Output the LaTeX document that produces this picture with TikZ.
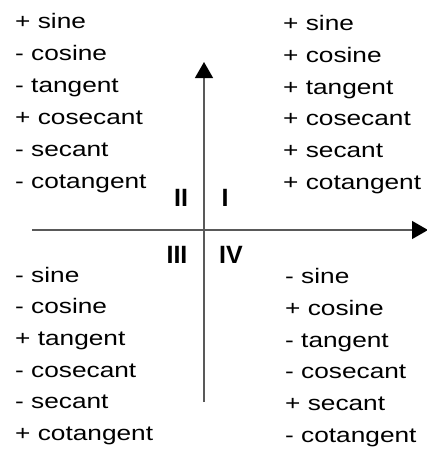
\documentclass[tikz,border=0pt]{standalone}
\usepackage{fontspec}
\setmainfont{Liberation Sans}
\newfontfamily\labelfont[FakeStretch=1.25]{Liberation Sans}
\usetikzlibrary{arrows.meta}
\tikzset{
  fn/.style={anchor=base west, inner sep=0pt, font=\labelfont\fontsize{21}{21}\selectfont, text=black},
  quad/.style={anchor=base, inner sep=0pt, font=\bfseries\fontsize{25}{25}\selectfont, text=black},
  axis/.style={draw=black!65, line width=1.3pt, -{Triangle[length=16pt,width=18pt,color=black]}}
}
\begin{document}
\begin{tikzpicture}[x=1pt,y=-1pt]
\useasboundingbox (0,0) rectangle (427,450);
% axes
\coordinate (xs) at (32,230);
\coordinate (xe) at (428,230);
\coordinate (ys) at (204,402);
\coordinate (ye) at (204,62);
\draw[axis] (xs) -- (xe);
\draw[axis] (ys) -- (ye);
% quadrant numerals
\node[quad] (qII) at (181,206) {II};
\node[quad] (qI) at (225,206) {I};
\node[quad] (qIII) at (177,263) {III};
\node[quad] (qIV) at (231,263) {IV};
% quadrant II (top left)
\node[fn] (a1) at (15,28) {+ sine};
\node[fn] (a2) at (15,60) {- cosine};
\node[fn] (a3) at (15,92) {- tangent};
\node[fn] (a4) at (15,124) {+ cosecant};
\node[fn] (a5) at (15,156) {- secant};
\node[fn] (a6) at (15,188) {- cotangent};
% quadrant I (top right)
\node[fn] (b1) at (283,30) {+ sine};
\node[fn] (b2) at (283,62) {+ cosine};
\node[fn] (b3) at (283,94) {+ tangent};
\node[fn] (b4) at (283,125) {+ cosecant};
\node[fn] (b5) at (283,157) {+ secant};
\node[fn] (b6) at (283,189) {+ cotangent};
% quadrant III (bottom left)
\node[fn] (c1) at (15,282) {- sine};
\node[fn] (c2) at (15,313) {- cosine};
\node[fn] (c3) at (15,345) {+ tangent};
\node[fn] (c4) at (15,377) {- cosecant};
\node[fn] (c5) at (15,408) {- secant};
\node[fn] (c6) at (15,440) {+ cotangent};
% quadrant IV (bottom right)
\node[fn] (d1) at (285,283) {- sine};
\node[fn] (d2) at (285,315) {+ cosine};
\node[fn] (d3) at (285,347) {- tangent};
\node[fn] (d4) at (285,378) {- cosecant};
\node[fn] (d5) at (285,410) {+ secant};
\node[fn] (d6) at (285,442) {- cotangent};
\end{tikzpicture}
\end{document}
